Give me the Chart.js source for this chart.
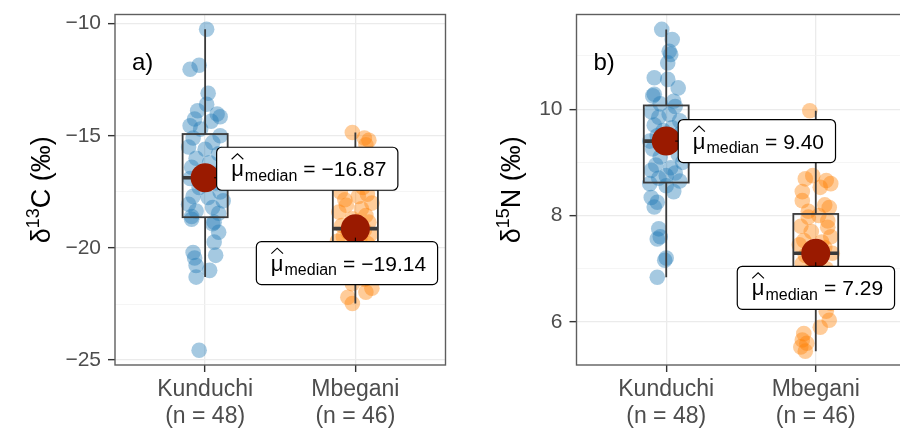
<!DOCTYPE html>
<html>
<head>
<meta charset="utf-8">
<title>Isotope values by site</title>
<script src="https://cdn.jsdelivr.net/npm/chart.js@4.4.1/dist/chart.umd.min.js"></script>
<style>
  html, body { margin: 0; padding: 0; background: #fff; overflow: hidden; }
  #wrap { position: relative; width: 900px; height: 431px; overflow: hidden; }
  canvas { position: absolute; top: 0; }
  #carbonChart { left: 0; }
  #nitrogenChart { left: 450px; }
</style>
</head>
<body>
<div id="wrap">
  <canvas id="carbonChart" width="460" height="431"></canvas>
  <canvas id="nitrogenChart" width="470" height="431"></canvas>
</div>
<script>
// categories
var sites = ['Kunduchi', 'Mbegani']
var siteCounts = ['(n = 48)', '(n = 46)']

// d13C, one value per animal
var carbonKunduchi = [-10.25, -11.85, -12.03, -13.10, -13.59, -13.88, -14.03, -14.15, -14.25, -14.35, -14.55, -14.70,
  -15.00, -15.10, -15.30, -15.50, -15.60, -15.80, -16.00, -16.20, -16.40, -16.55, -16.70, -16.85,
  -16.90, -17.10, -17.30, -17.50, -17.70, -17.75, -17.90, -18.05, -18.20, -18.35, -18.45, -18.60,
  -18.72, -18.85, -18.92, -19.30, -19.74, -20.20, -20.33, -20.45, -20.78, -21.00, -21.30, -24.56]
var carbonKunduchiJitter = [0.01, -0.04, -0.10, 0.02, 0.01, -0.05, 0.08, 0.10, -0.07, 0.04, -0.10, -0.03,
  0.10, -0.08, 0.05, -0.11, 0.00, 0.09, -0.06, 0.03, -0.09, 0.11, -0.02, 0.06,
  -0.10, 0.07, -0.04, 0.10, -0.08, 0.02, 0.12, -0.11, 0.05, -0.06, 0.09, -0.09,
  -0.09, 0.06, 0.05, 0.09, 0.06, -0.08, 0.07, -0.07, -0.06, 0.03, -0.06, -0.04]
var carbonMbegani = [-14.85, -15.10, -15.20, -15.40, -15.90, -16.30, -16.60, -16.90, -17.10, -17.30, -17.50, -17.60,
  -17.70, -17.85, -18.00, -18.10, -18.25, -18.40, -18.55, -18.70, -18.85, -19.00, -19.10,
  -19.20, -19.30, -19.40, -19.50, -19.60, -19.70, -19.80, -19.95, -20.05, -20.20, -20.30,
  -20.40, -20.50, -20.70, -20.90, -21.10, -21.30, -21.40, -21.60, -21.80, -21.97, -22.20, -22.48]
var carbonMbeganiJitter = [-0.02, 0.06, 0.09, 0.07, -0.05, 0.03, -0.08, 0.10, -0.03, 0.05, -0.10, 0.08,
  0.02, -0.07, 0.11, -0.06, 0.04, -0.11, 0.07, -0.02, 0.09, -0.09, 0.01,
  0.06, -0.05, 0.10, -0.08, 0.03, -0.12, 0.08, -0.03, 0.11, -0.07, 0.05,
  -0.10, 0.02, 0.09, -0.06, 0.12, -0.04, 0.06, -0.02, 0.11, 0.07, -0.05, -0.02]

// d15N
var nitrogenKunduchi = [11.50, 11.31, 11.09, 11.03, 10.87, 10.59, 10.56, 10.40, 10.28, 10.25, 10.15, 10.10,
  10.05, 9.95, 9.90, 9.85, 9.78, 9.70, 9.65, 9.60, 9.55, 9.50, 9.45, 9.40,
  9.35, 9.25, 9.15, 9.10, 9.00, 8.95, 8.90, 8.85, 8.80, 8.75, 8.70, 8.65,
  8.60, 8.56, 8.45, 8.34, 8.25, 8.16, 7.75, 7.60, 7.56, 7.20, 7.16, 6.84]
var nitrogenKunduchiJitter = [-0.03, 0.04, 0.02, 0.03, 0.01, -0.08, 0.01, 0.08, -0.08, -0.09, 0.05, -0.04,
  0.06, -0.10, 0.02, -0.05, 0.09, -0.08, 0.04, -0.02, 0.10, -0.06, 0.07, -0.11,
  0.05, -0.09, 0.08, -0.04, 0.11, -0.07, 0.03, -0.10, 0.06, 0.00, -0.05, 0.09,
  -0.11, 0.00, 0.05, -0.10, -0.06, -0.08, -0.05, -0.04, -0.06, 0.00, -0.01, -0.06]
var nitrogenMbegani = [9.97, 8.75, 8.69, 8.66, 8.60, 8.53, 8.45, 8.28, 8.20, 8.15, 8.08,
  8.00, 7.97, 7.90, 7.80, 7.78, 7.70, 7.60, 7.53, 7.50, 7.45, 7.40, 7.33,
  7.29, 7.25, 7.20, 7.10, 7.00, 6.95, 6.90, 6.85, 6.80, 6.75, 6.70, 6.65,
  6.50, 6.47, 6.35, 6.20, 6.03, 5.90, 5.78, 5.66, 5.60, 5.53, 5.45]
var nitrogenMbeganiJitter = [-0.04, -0.02, -0.07, 0.07, 0.10, 0.03, -0.09, -0.09, 0.06, 0.09, -0.05,
  0.02, -0.05, 0.08, -0.10, 0.08, -0.03, 0.10, -0.08, 0.04, -0.11, 0.06, -0.02,
  0.11, -0.07, 0.03, -0.09, 0.07, -0.04, 0.10, -0.11, 0.05, -0.01, 0.08, -0.06,
  -0.12, 0.00, 0.10, 0.07, 0.09, 0.03, -0.08, -0.09, -0.06, -0.10, -0.07]

// box plot summaries per site
var carbonQ1 = [-18.63, -20.35]
var carbonMedian = [-16.87, -19.14]
var carbonQ3 = [-14.92, -17.20]
var carbonWhiskerLow = [-21.30, -22.48]
var carbonWhiskerHigh = [-10.25, -14.85]
var nitrogenQ1 = [8.62, 6.62]
var nitrogenMedian = [9.40, 7.29]
var nitrogenQ3 = [10.07, 8.03]
var nitrogenWhiskerLow = [6.84, 5.45]
var nitrogenWhiskerHigh = [11.50, 9.97]

// axis ticks
var carbonTicks = [-25, -20, -15, -10]
var carbonMinorTicks = [-22.5, -17.5, -12.5]
var nitrogenTicks = [6, 8, 10]
var nitrogenMinorTicks = [7, 9, 11]

var FONT = '"Liberation Sans", Arial, sans-serif'
var panels = {}

var panelExtras = {
  id: 'panelExtras',
  // boxes go between the jittered points and the median dots
  beforeDatasetDraw: function (chart, args) {
    if (args.index !== 2) return
    drawBoxes(chart, panels[chart.canvas.id])
  },
  afterDatasetsDraw: function (chart) {
    var panel = panels[chart.canvas.id]
    drawMedianLabels(chart, panel)
    drawPanelBorder(chart)
    drawAxisTitle(chart, panel)
    drawPanelTag(chart, panel)
  }
}

// R prints negative numbers with a real minus sign
function formatNumber (v, digits) {
  var s = digits === undefined ? String(Math.abs(v)) : Math.abs(v).toFixed(digits)
  return (v < 0 ? '\u2212' : '') + s
}

function setupPanels () {
  panels.carbonChart = {
    tag: 'a)', isotope: '13', element: 'C', titleX: 50,
    q1: carbonQ1, median: carbonMedian, q3: carbonQ3, lo: carbonWhiskerLow, hi: carbonWhiskerHigh,
    // where ggrepel put the labels, relative to the median dot
    labelOffsets: [[11.5, -9], [-99, 34.5]]
  }
  panels.nitrogenChart = {
    tag: 'b)', isotope: '15', element: 'N', titleX: 70,
    q1: nitrogenQ1, median: nitrogenMedian, q3: nitrogenQ3, lo: nitrogenWhiskerLow, hi: nitrogenWhiskerHigh,
    labelOffsets: [[12, 0], [-78.5, 34.5]]
  }

  makePanel('carbonChart', [carbonKunduchi, carbonMbegani], [carbonKunduchiJitter, carbonMbeganiJitter],
    carbonMedian, carbonTicks, carbonMinorTicks, -25.22, -9.59, { yWidth: 115, right: 12 })
  makePanel('nitrogenChart', [nitrogenKunduchi, nitrogenMbegani], [nitrogenKunduchiJitter, nitrogenMbeganiJitter],
    nitrogenMedian, nitrogenTicks, nitrogenMinorTicks, 5.19, 11.78, { yWidth: 126.5, right: 9 })
}

function toPoints (values, jitter, position) {
  return values.map(function (v, i) {
    return { x: position + jitter[i], y: v }
  })
}

function makePanel (canvasId, groups, jitters, medians, ticks, minorTicks, yMin, yMax, frame) {
  var isMinor = function (v) { return minorTicks.indexOf(v) !== -1 }

  new Chart(document.getElementById(canvasId), {
    type: 'scatter',
    data: {
      datasets: [
        {
          data: toPoints(groups[0], jitters[0], 1),
          backgroundColor: 'rgba(31,120,180,0.4)',
          borderWidth: 0,
          pointRadius: 7.8,
          order: 1
        },
        {
          data: toPoints(groups[1], jitters[1], 2),
          backgroundColor: 'rgba(255,127,0,0.4)',
          borderWidth: 0,
          pointRadius: 7.8,
          order: 1
        },
        {
          data: medians.map(function (m, i) { return { x: i + 1, y: m } }),
          backgroundColor: '#9a1a00',
          borderWidth: 0,
          pointRadius: 14.5,
          order: 0
        }
      ]
    },
    options: {
      responsive: false,
      animation: false,
      events: [],
      layout: { padding: { left: 0, top: 13.5, right: frame.right, bottom: 0 } },
      plugins: { legend: { display: false }, tooltip: { enabled: false } },
      scales: {
        x: {
          type: 'linear',
          min: 0.4,
          max: 2.6,
          afterBuildTicks: function (scale) {
            scale.ticks = [{ value: 1 }, { value: 2 }]
          },
          afterFit: function (scale) {
            scale.height = 66
            scale.paddingLeft = 0
            scale.paddingRight = 0
          },
          border: { display: false },
          grid: { color: '#ebebeb', lineWidth: 1.3, tickColor: '#333333', tickLength: 7, tickWidth: 1.4 },
          ticks: {
            padding: 4,
            color: '#4d4d4d',
            font: { family: FONT, size: 23, lineHeight: '27px' },
            maxRotation: 0,
            callback: function (value) {
              var i = Math.round(value) - 1
              return [sites[i], siteCounts[i]]
            }
          }
        },
        y: {
          min: yMin,
          max: yMax,
          afterBuildTicks: function (scale) {
            scale.ticks = ticks.concat(minorTicks).map(function (v) { return { value: v } })
          },
          afterFit: function (scale) {
            scale.width = frame.yWidth
            scale.paddingTop = 0
            scale.paddingBottom = 0
          },
          border: { display: false },
          grid: {
            color: function (ctx) { return ctx.tick && isMinor(ctx.tick.value) ? '#f3f3f3' : '#ebebeb' },
            lineWidth: function (ctx) { return ctx.tick && isMinor(ctx.tick.value) ? 0.8 : 1.3 },
            tickColor: function (ctx) { return ctx.tick && isMinor(ctx.tick.value) ? 'rgba(0,0,0,0)' : '#333333' },
            tickLength: 7,
            tickWidth: 1.4
          },
          ticks: {
            padding: 7,
            color: '#4d4d4d',
            font: { family: FONT, size: 21 },
            callback: function (value) {
              return isMinor(value) ? '' : formatNumber(value)
            }
          }
        }
      }
    },
    plugins: [panelExtras]
  })
}

function drawBoxes (chart, panel) {
  var ctx = chart.ctx
  var xs = chart.scales.x
  var ys = chart.scales.y
  var halfWidth = 0.15

  ctx.save()
  ctx.strokeStyle = '#3a3a3a'
  for (var i = 0; i < 2; i++) {
    var xc = xs.getPixelForValue(i + 1)
    var left = xs.getPixelForValue(i + 1 - halfWidth)
    var right = xs.getPixelForValue(i + 1 + halfWidth)
    var q1 = ys.getPixelForValue(panel.q1[i])
    var q3 = ys.getPixelForValue(panel.q3[i])
    var med = ys.getPixelForValue(panel.median[i])

    ctx.lineWidth = 1.8
    ctx.beginPath()
    ctx.moveTo(xc, q3)
    ctx.lineTo(xc, ys.getPixelForValue(panel.hi[i]))
    ctx.moveTo(xc, q1)
    ctx.lineTo(xc, ys.getPixelForValue(panel.lo[i]))
    ctx.stroke()
    ctx.strokeRect(left, q3, right - left, q1 - q3)

    ctx.lineWidth = 3.6
    ctx.beginPath()
    ctx.moveTo(left, med)
    ctx.lineTo(right, med)
    ctx.stroke()
  }
  ctx.restore()
}

function drawMedianLabels (chart, panel) {
  var ctx = chart.ctx
  var xs = chart.scales.x
  var ys = chart.scales.y

  ctx.save()
  for (var i = 0; i < 2; i++) {
    var px = xs.getPixelForValue(i + 1)
    var py = ys.getPixelForValue(panel.median[i])
    var left = px + panel.labelOffsets[i][0]
    var mid = py + panel.labelOffsets[i][1]
    var valueText = formatNumber(panel.median[i], 2)

    ctx.font = '22px ' + FONT
    var muW = ctx.measureText('\u03bc').width
    ctx.font = '16px ' + FONT
    var subW = ctx.measureText('median').width
    ctx.font = '21px ' + FONT
    var eqW = ctx.measureText('=').width
    var valW = ctx.measureText(valueText).width
    var width = 14.5 + muW + 1 + subW + 6 + eqW + 6 + valW + 11.5
    var height = 43
    var top = mid - height / 2

    // short leader from the dot to the label
    var cx = Math.min(Math.max(px, left), left + width)
    var cy = Math.min(Math.max(py, top), top + height)
    var dist = Math.hypot(cx - px, cy - py)
    if (dist > 9) {
      ctx.strokeStyle = '#000'
      ctx.lineWidth = 1
      ctx.beginPath()
      ctx.moveTo(px + (cx - px) * 9 / dist, py + (cy - py) * 9 / dist)
      ctx.lineTo(cx, cy)
      ctx.stroke()
    }

    ctx.beginPath()
    ctx.roundRect(left, top, width, height, 5)
    ctx.fillStyle = '#fff'
    ctx.fill()
    ctx.strokeStyle = '#000'
    ctx.lineWidth = 1.2
    ctx.stroke()

    ctx.fillStyle = '#000'
    ctx.textBaseline = 'alphabetic'
    ctx.textAlign = 'left'
    var x = left + 14.5
    var base = mid + 7.5
    ctx.font = '22px ' + FONT
    ctx.fillText('\u03bc', x, base)
    // wide hat over the mu
    ctx.lineWidth = 1.1
    ctx.beginPath()
    ctx.moveTo(x + 0.5, base - 17)
    ctx.lineTo(x + muW / 2, base - 22.5)
    ctx.lineTo(x + muW - 0.5, base - 17)
    ctx.stroke()
    x += muW + 1
    ctx.font = '16px ' + FONT
    ctx.fillText('median', x, base + 4.5)
    x += subW + 6
    ctx.font = '21px ' + FONT
    ctx.fillText('=', x, base)
    x += eqW + 6
    ctx.fillText(valueText, x, base)
  }
  ctx.restore()
}

function drawPanelBorder (chart) {
  var ctx = chart.ctx
  var a = chart.chartArea
  ctx.save()
  ctx.strokeStyle = '#5e5e5e'
  ctx.lineWidth = 1.4
  ctx.strokeRect(a.left, a.top, a.right - a.left, a.bottom - a.top)
  ctx.restore()
}

function drawAxisTitle (chart, panel) {
  var ctx = chart.ctx
  var a = chart.chartArea
  var parts = [
    { text: '\u03b4', size: 27, rise: 0 },
    { text: panel.isotope, size: 18, rise: 11 },
    { text: panel.element + ' (\u2030)', size: 27, rise: 0 }
  ]
  var total = 0
  parts.forEach(function (p) {
    ctx.font = p.size + 'px ' + FONT
    p.width = ctx.measureText(p.text).width
    total += p.width
  })

  ctx.save()
  ctx.translate(panel.titleX, (a.top + a.bottom) / 2)
  ctx.rotate(-Math.PI / 2)
  ctx.fillStyle = '#000'
  ctx.textBaseline = 'alphabetic'
  ctx.textAlign = 'left'
  var x = -total / 2
  parts.forEach(function (p) {
    ctx.font = p.size + 'px ' + FONT
    ctx.fillText(p.text, x, -p.rise)
    x += p.width
  })
  ctx.restore()
}

function drawPanelTag (chart, panel) {
  var ctx = chart.ctx
  var a = chart.chartArea
  ctx.save()
  ctx.fillStyle = '#000'
  ctx.font = '24px ' + FONT
  ctx.textBaseline = 'alphabetic'
  ctx.fillText(panel.tag, a.left + 17, a.top + 55)
  ctx.restore()
}

setupPanels()
</script>
</body>
</html>
